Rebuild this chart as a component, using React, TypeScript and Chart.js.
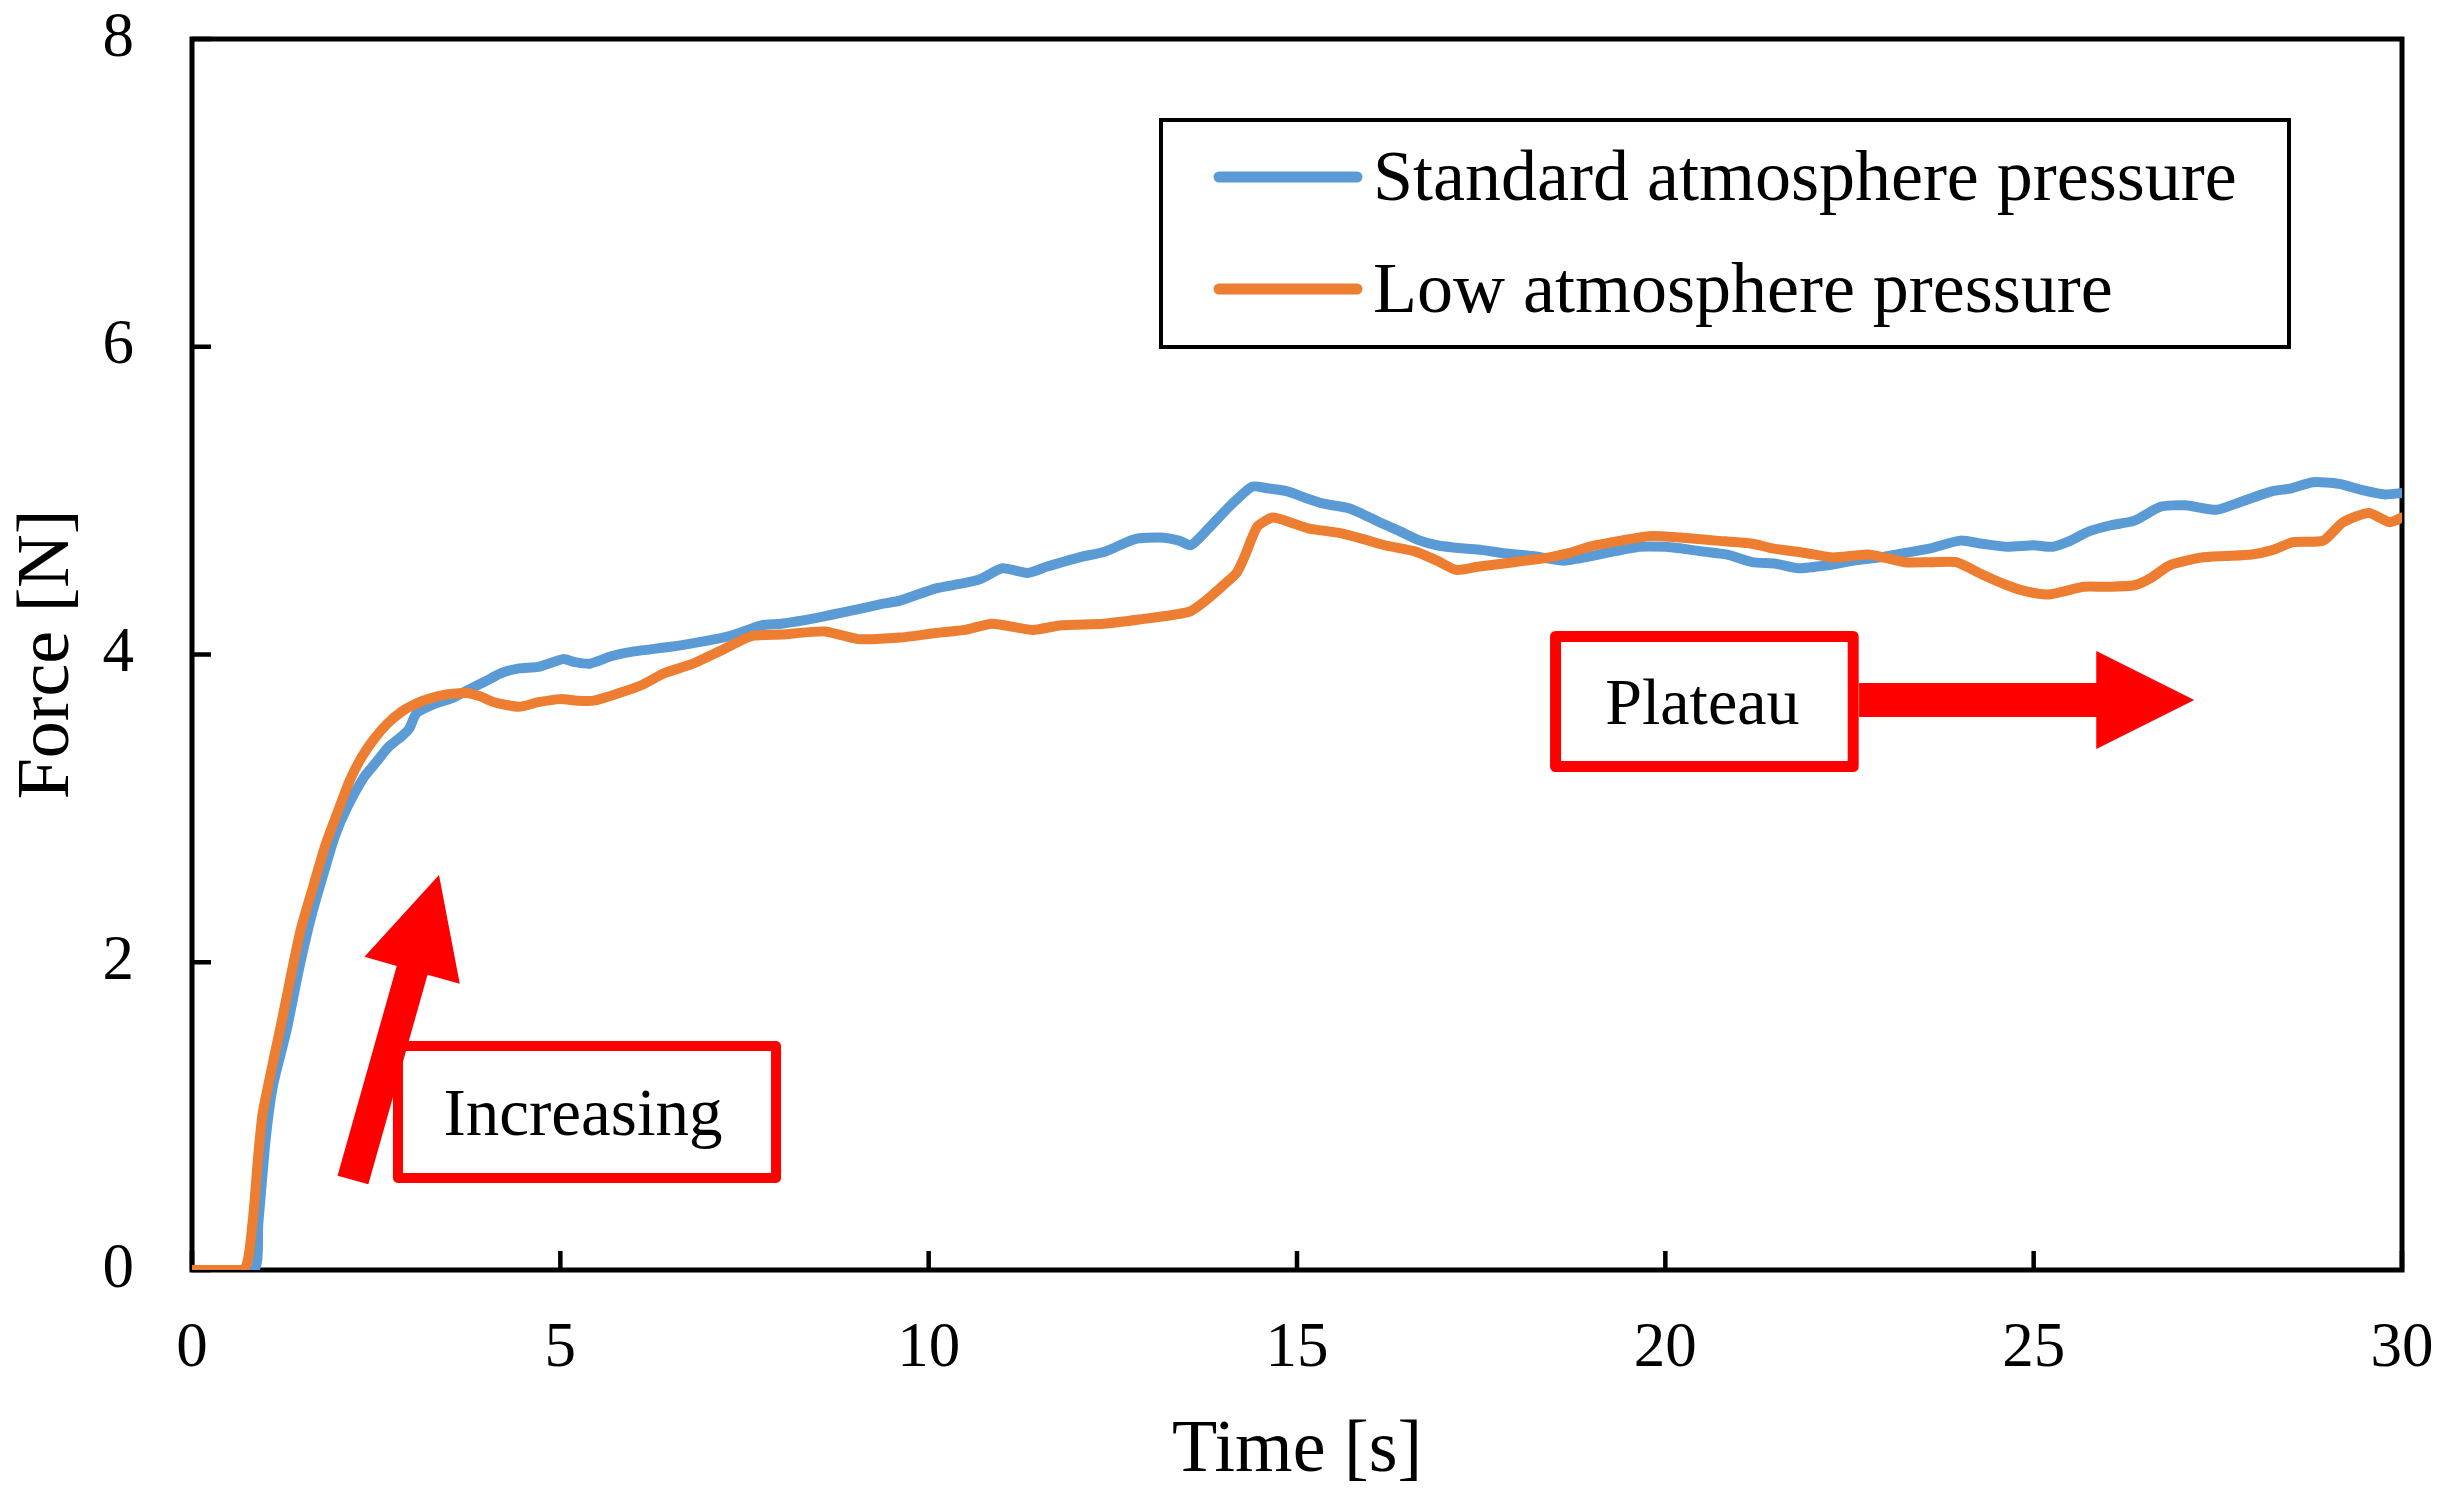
import React, { useEffect, useRef } from "react";
import { Chart, registerables } from "chart.js";

Chart.register(...registerables);

// ---------- data ----------
const seriesLabels = ["Standard atmosphere pressure", "Low atmosphere pressure"];
const xTitle = "Time [s]";
const yTitle = "Force [N]";
const xTicks = [0, 5, 10, 15, 20, 25, 30];
const yTicks = [0, 2, 4, 6, 8];

const stdTime = [
  0, 0.84, 0.9, 1.0, 1.1, 1.28, 1.45, 1.62, 1.8, 1.94, 2.1, 2.33, 2.5, 2.67, 2.85, 2.95, 3.05, 3.3, 3.55,
  3.79, 4.0, 4.2, 4.44, 4.7, 5.04, 5.2, 5.4, 5.7, 6.0, 6.5, 7.0, 7.3, 7.73, 8.0, 8.5, 9.0, 9.38, 9.61,
  10.1, 10.44, 10.7, 11.0, 11.34, 11.6, 12.03, 12.4, 12.8, 13.14, 13.4, 13.56, 13.8, 14.1, 14.39, 14.6,
  14.87, 15.1, 15.36, 15.71, 15.9, 16.12, 16.4, 16.67, 16.9, 17.23, 17.5, 17.78, 18.2, 18.61, 19.0, 19.3,
  19.65, 20.0, 20.2, 20.5, 20.83, 21.18, 21.5, 21.8, 22.2, 22.56, 22.9, 23.25, 23.6, 24.0, 24.3, 24.64,
  25.0, 25.26, 25.5, 25.75, 26.05, 26.37, 26.72, 27.06, 27.48, 27.8, 28.23, 28.5, 28.79, 29.14, 29.45,
  29.77, 30.0,
];
const stdForce = [
  0, 0, 0.3, 0.85, 1.2, 1.55, 1.95, 2.3, 2.6, 2.82, 3.0, 3.2, 3.3, 3.4, 3.47, 3.52, 3.62, 3.68, 3.72,
  3.78, 3.83, 3.88, 3.91, 3.92, 3.97, 3.95, 3.94, 3.99, 4.02, 4.05, 4.09, 4.12, 4.19, 4.2, 4.24, 4.29, 4.33,
  4.35, 4.43, 4.46, 4.49, 4.56, 4.53, 4.57, 4.63, 4.67, 4.75, 4.76, 4.74, 4.71, 4.82, 4.97, 5.09, 5.08,
  5.06, 5.02, 4.98, 4.95, 4.91, 4.86, 4.8, 4.74, 4.71, 4.69, 4.68, 4.66, 4.64, 4.61, 4.64, 4.67, 4.7, 4.7,
  4.69, 4.67, 4.65, 4.6, 4.59, 4.56, 4.58, 4.61, 4.63, 4.66, 4.69, 4.74, 4.72, 4.7, 4.71, 4.7, 4.74, 4.8,
  4.84, 4.87, 4.96, 4.97, 4.94, 4.99, 5.06, 5.08, 5.12, 5.11, 5.07, 5.04, 5.05,
];

const lowTime = [
  0, 0.7, 0.82, 0.9, 0.96, 1.1, 1.22, 1.35, 1.48, 1.65, 1.81, 1.98, 2.14, 2.3, 2.47, 2.65, 2.85, 3.0, 3.2,
  3.45, 3.72, 3.9, 4.1, 4.44, 4.7, 5.0, 5.23, 5.45, 5.8, 6.1, 6.42, 6.8, 7.2, 7.6, 8.0, 8.59, 9.05, 9.61,
  10.1, 10.5, 10.86, 11.41, 11.8, 12.38, 12.9, 13.35, 13.55, 13.76, 14.0, 14.18, 14.3, 14.46, 14.67, 14.9,
  15.15, 15.57, 15.9, 16.19, 16.6, 16.9, 17.16, 17.45, 17.78, 18.1, 18.41, 18.7, 18.96, 19.4, 19.8, 20.2,
  20.69, 21.18, 21.45, 21.9, 22.28, 22.76, 23.25, 23.6, 23.95, 24.3, 24.64, 24.9, 25.2, 25.68, 26.0, 26.37,
  26.6, 26.85, 27.27, 27.6, 27.96, 28.25, 28.52, 28.93, 29.2, 29.55, 29.83, 30.0,
];
const lowForce = [
  0, 0, 0.3, 0.75, 1.02, 1.35, 1.62, 1.93, 2.22, 2.5, 2.76, 2.98, 3.18, 3.33, 3.45, 3.55, 3.63, 3.67, 3.71,
  3.74, 3.75, 3.73, 3.69, 3.66, 3.69, 3.71, 3.7, 3.7, 3.75, 3.8, 3.88, 3.94, 4.03, 4.12, 4.13, 4.15, 4.1,
  4.11, 4.14, 4.16, 4.2, 4.16, 4.19, 4.2, 4.23, 4.26, 4.28, 4.35, 4.45, 4.53, 4.65, 4.83, 4.89, 4.86, 4.82,
  4.79, 4.75, 4.71, 4.67, 4.61, 4.55, 4.57, 4.59, 4.61, 4.63, 4.66, 4.7, 4.74, 4.77, 4.76, 4.74, 4.72, 4.69,
  4.66, 4.63, 4.65, 4.6, 4.6, 4.6, 4.52, 4.45, 4.41, 4.39, 4.44, 4.44, 4.45, 4.5, 4.58, 4.63, 4.64, 4.65,
  4.68, 4.73, 4.74, 4.86, 4.92, 4.86, 4.89,
];

// annotation texts and anchors (data units)
const plateauText = "Plateau";
const increasingText = "Increasing";
const plateauBox = { t1: 18.51, t2: 22.55, f1: 4.117, f2: 3.272 };
const plateauArrow = { t1: 22.63, t2: 27.18, f: 3.704 };
const increasingBox = { t1: 2.796, t2: 7.928, f1: 1.456, f2: 0.598 };
const increasingArrow = { t1: 2.185, f1: 0.585, t2: 3.353, f2: 2.567 };

// ---------- styles ----------
const BLUE = "#5B9BD5";
const ORANGE = "#ED7D31";
const RED = "#FF0000";
const FONT = "'Liberation Serif', 'Times New Roman', serif";

function arrowPath(ctx: CanvasRenderingContext2D, x1: number, y1: number, x2: number, y2: number, w: number, hl: number, hw: number) {
  const dx = x2 - x1;
  const dy = y2 - y1;
  const len = Math.hypot(dx, dy);
  const ux = dx / len;
  const uy = dy / len;
  const nx = -uy;
  const ny = ux;
  const bx = x2 - ux * hl;
  const by = y2 - uy * hl;
  ctx.beginPath();
  ctx.moveTo(x1 + (nx * w) / 2, y1 + (ny * w) / 2);
  ctx.lineTo(bx + (nx * w) / 2, by + (ny * w) / 2);
  ctx.lineTo(bx + (nx * hw) / 2, by + (ny * hw) / 2);
  ctx.lineTo(x2, y2);
  ctx.lineTo(bx - (nx * hw) / 2, by - (ny * hw) / 2);
  ctx.lineTo(bx - (nx * w) / 2, by - (ny * w) / 2);
  ctx.lineTo(x1 - (nx * w) / 2, y1 - (ny * w) / 2);
  ctx.closePath();
  ctx.fill();
}

export default function App() {
  const ref = useRef<HTMLCanvasElement>(null);

  useEffect(() => {
    document.body.style.margin = "0";
    const canvas = ref.current;
    if (!canvas) return;

    const framePlugin = {
      id: "frameTicks",
      beforeDatasetsDraw(chart: any) {
        const { ctx, chartArea: a, scales } = chart;
        ctx.save();
        ctx.strokeStyle = "#000";
        ctx.lineWidth = 4.5;
        ctx.lineCap = "butt";
        const xs = scales.x;
        const ys = scales.y;
        ctx.beginPath();
        xs.ticks.forEach((tk: any) => {
          const px = xs.getPixelForValue(tk.value);
          ctx.moveTo(px, a.bottom);
          ctx.lineTo(px, a.bottom - 19);
        });
        ys.ticks.forEach((tk: any) => {
          const py = ys.getPixelForValue(tk.value);
          ctx.moveTo(a.left, py);
          ctx.lineTo(a.left + 19, py);
        });
        ctx.stroke();
        ctx.lineWidth = 5;
        ctx.strokeRect(a.left, a.top, a.right - a.left, a.bottom - a.top);
        ctx.restore();
      },
      afterDatasetsDraw(chart: any) {
        const { ctx, scales, chartArea: a } = chart;
        const xs = scales.x;
        const ys = scales.y;
        const X = (v: number) => xs.getPixelForValue(v);
        const Y = (v: number) => ys.getPixelForValue(v);
        ctx.save();
        // Plateau box
        ctx.lineJoin = "round";
        ctx.strokeStyle = RED;
        ctx.fillStyle = "#fff";
        ctx.lineWidth = 11;
        let bx1 = X(plateauBox.t1), bx2 = X(plateauBox.t2), by1 = Y(plateauBox.f1), by2 = Y(plateauBox.f2);
        ctx.fillRect(bx1, by1, bx2 - bx1, by2 - by1);
        ctx.strokeRect(bx1, by1, bx2 - bx1, by2 - by1);
        ctx.fillStyle = "#000";
        ctx.font = `66px ${FONT}`;
        ctx.textAlign = "center";
        ctx.textBaseline = "alphabetic";
        ctx.fillText(plateauText, (bx1 + bx2) / 2 - 2, (by1 + by2) / 2 + 22);
        // Plateau arrow
        ctx.fillStyle = RED;
        arrowPath(ctx, X(plateauArrow.t1), Y(plateauArrow.f), X(plateauArrow.t2), Y(plateauArrow.f), 34, 98, 98);

        // Increasing box
        ctx.lineWidth = 10;
        ctx.fillStyle = "#fff";
        bx1 = X(increasingBox.t1); bx2 = X(increasingBox.t2); by1 = Y(increasingBox.f1); by2 = Y(increasingBox.f2);
        ctx.fillRect(bx1, by1, bx2 - bx1, by2 - by1);
        ctx.strokeRect(bx1, by1, bx2 - bx1, by2 - by1);
        ctx.fillStyle = "#000";
        ctx.font = `67px ${FONT}`;
        ctx.fillText(increasingText, (bx1 + bx2) / 2 - 4, (by1 + by2) / 2 + 23);
        // Increasing arrow
        ctx.fillStyle = RED;
        arrowPath(ctx, X(increasingArrow.t1), Y(increasingArrow.f1), X(increasingArrow.t2), Y(increasingArrow.f2), 32, 99, 99);

        // Legend
        const lx1 = a.left + 969;
        const lx2 = a.left + 2097;
        const ly1 = a.top + 81;
        const ly2 = a.top + 308;
        ctx.fillStyle = "#fff";
        ctx.fillRect(lx1, ly1, lx2 - lx1, ly2 - ly1);
        ctx.strokeStyle = "#000";
        ctx.lineWidth = 4;
        ctx.lineJoin = "miter";
        ctx.strokeRect(lx1, ly1, lx2 - lx1, ly2 - ly1);
        const rows = [ly1 + 57, ly1 + 169];
        chart.data.datasets.forEach((ds: any, i: number) => {
          const ry = rows[i];
          ctx.strokeStyle = ds.borderColor;
          ctx.lineWidth = 11;
          ctx.lineCap = "round";
          ctx.beginPath();
          ctx.moveTo(lx1 + 58, ry);
          ctx.lineTo(lx1 + 196, ry);
          ctx.stroke();
          ctx.fillStyle = "#000";
          ctx.font = `72px ${FONT}`;
          ctx.textAlign = "left";
          ctx.textBaseline = "alphabetic";
          ctx.fillText(ds.label, lx1 + 212, ry + 23);
        });
        ctx.restore();
      },
    };

    const noPadX = (s: any) => {
      s.height = 234;
      s.paddingLeft = 0;
      s.paddingRight = 0;
    };
    const noPadY = (s: any) => {
      s.width = 192;
      s.paddingTop = 0;
      s.paddingBottom = 0;
    };

    const chart = new Chart(canvas, {
      type: "line",
      data: {
        datasets: [
          {
            label: seriesLabels[0],
            data: stdTime.map((t, i) => ({ x: t, y: stdForce[i] })),
            borderColor: BLUE,
            backgroundColor: BLUE,
            borderWidth: 10,
            pointRadius: 0,
            fill: false,
            tension: 0.2,
            borderJoinStyle: "round",
            borderCapStyle: "round",
            order: 1,
          },
          {
            label: seriesLabels[1],
            data: lowTime.map((t, i) => ({ x: t, y: lowForce[i] })),
            borderColor: ORANGE,
            backgroundColor: ORANGE,
            borderWidth: 10,
            pointRadius: 0,
            fill: false,
            tension: 0.2,
            borderJoinStyle: "round",
            borderCapStyle: "round",
            order: 0,
          },
        ],
      },
      options: {
        responsive: false,
        animation: false,
        devicePixelRatio: 1,
        layout: { padding: { left: 0, top: 39, right: 48, bottom: 0 } },
        plugins: { legend: { display: false }, tooltip: { enabled: false } },
        scales: {
          x: {
            type: "linear",
            min: 0,
            max: 30,
            afterBuildTicks: (s: any) => {
              s.ticks = xTicks.map((v) => ({ value: v }));
            },
            afterFit: noPadX,
            grid: { display: false, drawTicks: false },
            border: { display: false },
            ticks: { color: "#000", font: { family: FONT, size: 63 }, padding: 42, maxRotation: 0, autoSkip: false },
            title: {
              display: true,
              text: xTitle,
              color: "#000",
              font: { family: FONT, size: 74 },
              padding: { top: 0, bottom: 8 },
            },
          },
          y: {
            type: "linear",
            min: 0,
            max: 8,
            afterBuildTicks: (s: any) => {
              s.ticks = yTicks.map((v) => ({ value: v }));
            },
            afterFit: noPadY,
            grid: { display: false, drawTicks: false },
            border: { display: false },
            ticks: { color: "#000", font: { family: FONT, size: 63 }, padding: 58, autoSkip: false },
            title: {
              display: true,
              text: yTitle,
              color: "#000",
              font: { family: FONT, size: 74 },
              padding: { top: 4, bottom: 0 },
            },
          },
        },
      },
      plugins: [framePlugin],
    } as any);

    return () => chart.destroy();
  }, []);

  return (
    <div style={{ width: 2450, height: 1504, background: "#fff" }}>
      <canvas ref={ref} width={2450} height={1504} style={{ display: "block", width: 2450, height: 1504 }} />
    </div>
  );
}
